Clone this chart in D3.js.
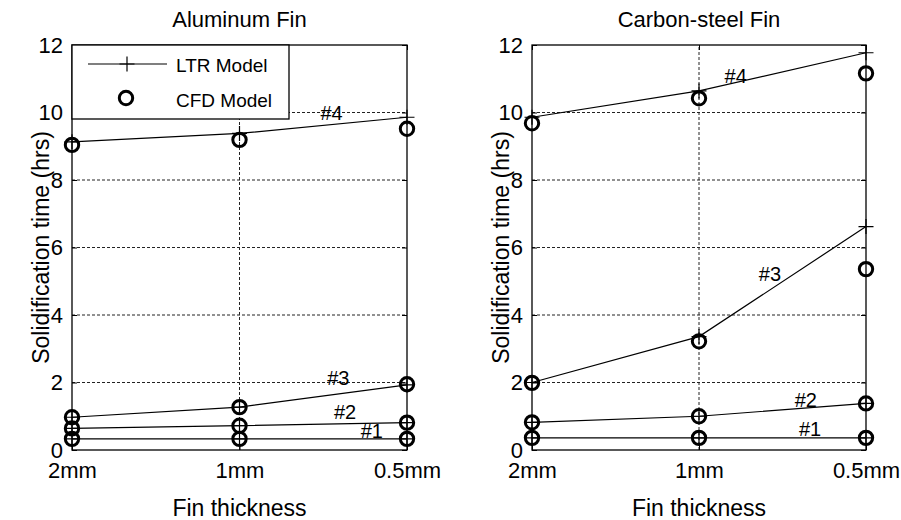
<!DOCTYPE html>
<html>
<head>
<meta charset="utf-8">
<script src="https://cdn.jsdelivr.net/npm/d3@7"></script>
<style>
  html, body { margin: 0; padding: 0; background: #fff; }
  svg { display: block; font-family: "Liberation Sans", Arial, Helvetica, sans-serif; }
</style>
</head>
<body>
<script>
// Fin thickness categories (x axis) and value ticks (y axis)
const thickness = ["2mm", "1mm", "0.5mm"];
const yTicks = [0, 2, 4, 6, 8, 10, 12];
const caseNames = ["#1", "#2", "#3", "#4"];

// Aluminum fin: solidification time (hrs) per case, per thickness
const alLTR = [
  [0.33, 0.33, 0.33],
  [0.64, 0.72, 0.81],
  [0.97, 1.27, 1.93],
  [9.13, 9.38, 9.86]
];
const alCFD = [
  [0.33, 0.33, 0.33],
  [0.64, 0.72, 0.81],
  [0.97, 1.27, 1.95],
  [9.04, 9.19, 9.52]
];

// Carbon-steel fin
const csLTR = [
  [0.36, 0.36, 0.36],
  [0.82, 1.00, 1.38],
  [2.00, 3.36, 6.62],
  [9.86, 10.64, 11.77]
];
const csCFD = [
  [0.36, 0.36, 0.36],
  [0.82, 1.00, 1.38],
  [1.99, 3.22, 5.36],
  [9.68, 10.42, 11.16]
];

// Case label anchors in data space: [thickness index, hrs]
const alLabelAt = [[1.79, 0.36], [1.63, 0.92], [1.59, 1.93], [1.55, 9.78]];
const csLabelAt = [[1.665, 0.41], [1.64, 1.27], [1.425, 5.01], [1.22, 10.87]];

const W = 901, H = 520;
const svg = d3.select("body").append("svg")
  .attr("width", W).attr("height", H)
  .attr("viewBox", `0 0 ${W} ${H}`);
svg.append("rect").attr("width", W).attr("height", H).attr("fill", "#fff");

const plotTop = 45, plotBottom = 450;
const panels = [
  { title: "Aluminum Fin", left: 72, right: 407, ltr: alLTR, cfd: alCFD, labels: alLabelAt, legend: true },
  { title: "Carbon-steel Fin", left: 532, right: 866, ltr: csLTR, cfd: csCFD, labels: csLabelAt, legend: false }
];

const plusPath = "M-7.5,0H7.5M0,-7.5V7.5";

panels.forEach(p => {
  const x = d3.scaleLinear().domain([0, thickness.length - 1]).range([p.left, p.right]);
  const y = d3.scaleLinear().domain([0, 12]).range([plotBottom, plotTop]);
  const g = svg.append("g");

  // dotted grid
  const grid = g.append("g").attr("stroke", "#222").attr("stroke-width", 1)
    .attr("stroke-dasharray", "3,2").attr("fill", "none");
  grid.selectAll("line.gy").data(yTicks.filter(t => t > 0 && t < 12)).join("line")
    .attr("class", "gy")
    .attr("x1", x(0)).attr("x2", x(2))
    .attr("y1", d => y(d)).attr("y2", d => y(d));
  grid.selectAll("line.gx").data([1]).join("line")
    .attr("class", "gx")
    .attr("x1", d => x(d)).attr("x2", d => x(d))
    .attr("y1", y(0)).attr("y2", y(12));

  // axes with inward ticks on all four sides
  const styleAxis = sel => {
    sel.attr("font-family", null).attr("font-size", null);
    sel.select(".domain").remove();
    sel.selectAll(".tick line").attr("stroke", "#000").attr("stroke-width", 1);
    sel.selectAll(".tick text").attr("fill", "#000").attr("font-size", 22);
  };
  g.append("g").attr("transform", `translate(${p.left},0)`)
    .call(d3.axisLeft(y).tickValues(yTicks).tickSizeInner(-5).tickSizeOuter(0).tickPadding(9))
    .call(styleAxis);
  g.append("g").attr("transform", `translate(${p.right},0)`)
    .call(d3.axisRight(y).tickValues(yTicks).tickSizeInner(-5).tickSizeOuter(0).tickFormat(""))
    .call(styleAxis);
  g.append("g").attr("transform", `translate(0,${plotBottom})`)
    .call(d3.axisBottom(x).tickValues([0, 1, 2]).tickFormat(i => thickness[i])
      .tickSizeInner(-5).tickSizeOuter(0).tickPadding(12))
    .call(styleAxis);
  g.append("g").attr("transform", `translate(0,${plotTop})`)
    .call(d3.axisTop(x).tickValues([0, 1, 2]).tickSizeInner(-5).tickSizeOuter(0).tickFormat(""))
    .call(styleAxis);

  // plot box
  g.append("rect")
    .attr("x", p.left).attr("y", plotTop)
    .attr("width", p.right - p.left).attr("height", plotBottom - plotTop)
    .attr("fill", "none").attr("stroke", "#000").attr("stroke-width", 1.3);

  // LTR model: lines with plus markers
  const line = d3.line().x((d, i) => x(i)).y(d => y(d));
  g.append("g").selectAll("path").data(p.ltr).join("path")
    .attr("d", line).attr("fill", "none").attr("stroke", "#000").attr("stroke-width", 1.2);
  g.append("g").selectAll("g").data(p.ltr).join("g")
    .selectAll("path").data(d => d).join("path")
    .attr("transform", (d, i) => `translate(${x(i)},${y(d)})`)
    .attr("d", plusPath).attr("stroke", "#000").attr("stroke-width", 1.2).attr("fill", "none");

  // CFD model: open circles
  g.append("g").selectAll("g").data(p.cfd).join("g")
    .selectAll("circle").data(d => d).join("circle")
    .attr("cx", (d, i) => x(i)).attr("cy", d => y(d)).attr("r", 6.7)
    .attr("fill", "none").attr("stroke", "#000").attr("stroke-width", 3);

  // case labels
  g.append("g").selectAll("text").data(p.labels).join("text")
    .attr("x", d => x(d[0])).attr("y", d => y(d[1]))
    .attr("text-anchor", "middle").attr("font-size", 20).attr("fill", "#000")
    .text((d, i) => caseNames[i]);

  // titles and axis labels
  const cx = (p.left + p.right) / 2;
  svg.append("text").attr("x", cx).attr("y", 27).attr("text-anchor", "middle")
    .attr("font-size", 22).text(p.title);
  svg.append("text").attr("x", cx).attr("y", 516).attr("text-anchor", "middle")
    .attr("font-size", 23).text("Fin thickness");
  svg.append("text")
    .attr("transform", `translate(${p.left - 23},${(plotTop + plotBottom) / 2}) rotate(-90)`)
    .attr("text-anchor", "middle").attr("font-size", 23)
    .text("Solidification time (hrs)");

  // legend
  if (p.legend) {
    const lg = svg.append("g");
    lg.append("rect").attr("x", p.left).attr("y", plotTop).attr("width", 217).attr("height", 74)
      .attr("fill", "#fff").attr("stroke", "#000").attr("stroke-width", 1.3);
    lg.append("line").attr("x1", p.left + 16).attr("x2", p.left + 95)
      .attr("y1", plotTop + 19).attr("y2", plotTop + 19).attr("stroke", "#000").attr("stroke-width", 1.2);
    lg.append("path").attr("transform", `translate(${p.left + 55},${plotTop + 19})`)
      .attr("d", plusPath).attr("stroke", "#000").attr("stroke-width", 1.2);
    lg.append("circle").attr("cx", p.left + 54).attr("cy", plotTop + 53).attr("r", 6.7)
      .attr("fill", "none").attr("stroke", "#000").attr("stroke-width", 3);
    lg.append("text").attr("x", p.left + 104).attr("y", plotTop + 27).attr("font-size", 19).text("LTR Model");
    lg.append("text").attr("x", p.left + 104).attr("y", plotTop + 62).attr("font-size", 19).text("CFD Model");
  }
});
</script>
</body>
</html>
